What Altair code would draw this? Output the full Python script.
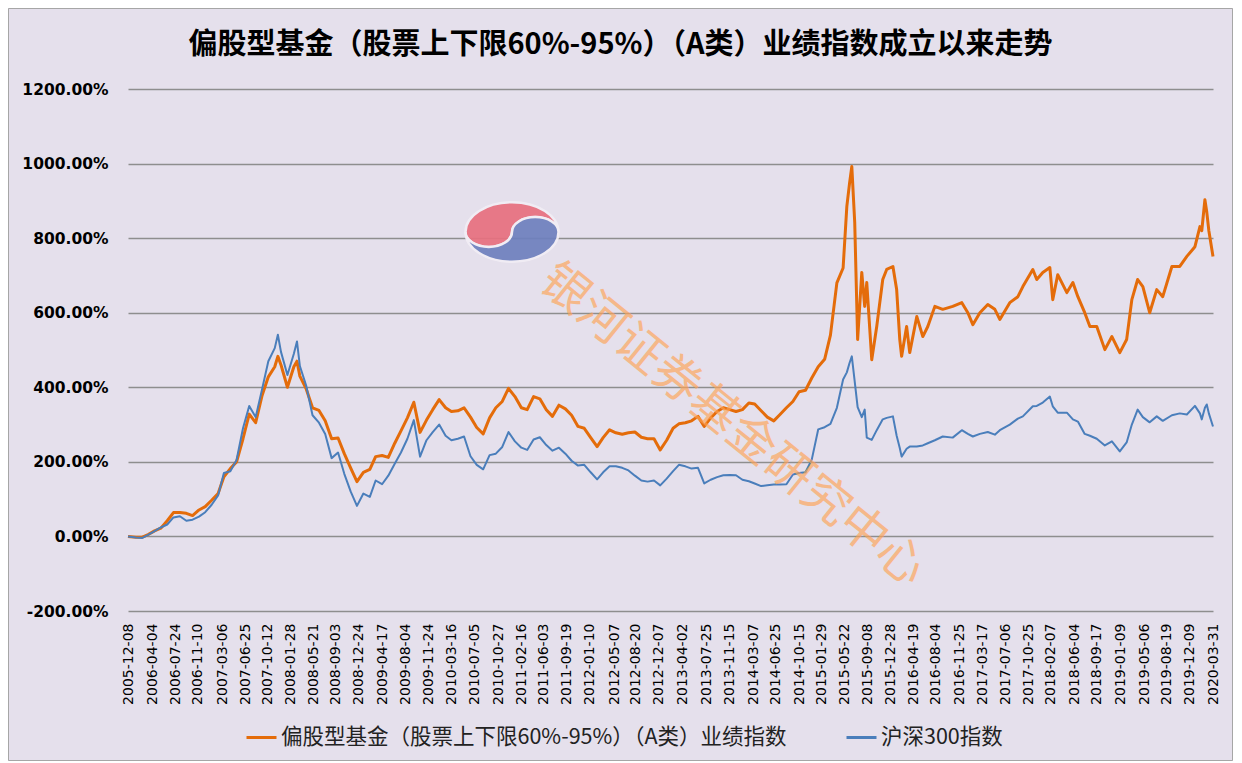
import altair as alt
import pandas as pd

fund_name = "偏股型基金（股票上下限60%-95%）（A类）业绩指数"
csi_name = "沪深300指数"
title_text = "偏股型基金（股票上下限60%-95%）（A类）业绩指数成立以来走势"

dates = [
    "2005-12-08", "2006-01-15", "2006-02-15", "2006-03-15", "2006-04-15", "2006-05-15",
    "2006-06-15", "2006-07-15", "2006-08-15", "2006-09-15", "2006-10-15", "2006-11-15",
    "2006-12-15", "2007-01-15", "2007-02-15", "2007-03-15", "2007-04-15", "2007-05-15",
    "2007-06-15", "2007-07-15", "2007-08-15", "2007-09-15", "2007-10-15", "2007-11-15",
    "2007-11-30", "2007-12-15", "2008-01-15", "2008-02-15", "2008-03-01", "2008-03-15",
    "2008-04-15", "2008-05-15", "2008-06-15", "2008-07-15", "2008-08-15", "2008-09-15",
    "2008-10-15", "2008-11-15", "2008-12-15", "2009-01-15", "2009-02-15", "2009-03-15",
    "2009-04-15", "2009-05-15", "2009-06-15", "2009-07-15", "2009-08-15", "2009-09-15",
    "2009-10-15", "2009-11-15", "2009-12-15", "2010-01-15", "2010-02-15", "2010-03-15",
    "2010-04-15", "2010-05-15", "2010-06-15", "2010-07-15", "2010-08-15", "2010-09-15",
    "2010-10-15", "2010-11-15", "2010-12-15", "2011-01-15", "2011-02-15", "2011-03-15",
    "2011-04-15", "2011-05-15", "2011-06-15", "2011-07-15", "2011-08-15", "2011-09-15",
    "2011-10-15", "2011-11-15", "2011-12-15", "2012-01-15", "2012-02-15", "2012-03-15",
    "2012-04-15", "2012-05-15", "2012-06-15", "2012-07-15", "2012-08-15", "2012-09-15",
    "2012-10-15", "2012-11-15", "2012-12-15", "2013-01-15", "2013-02-15", "2013-03-15",
    "2013-04-15", "2013-05-15", "2013-06-15", "2013-07-15", "2013-08-15", "2013-09-15",
    "2013-10-15", "2013-11-15", "2013-12-15", "2014-01-15", "2014-02-15", "2014-03-15",
    "2014-04-15", "2014-05-15", "2014-06-15", "2014-07-15", "2014-08-15", "2014-09-15",
    "2014-10-15", "2014-11-15", "2014-12-15", "2015-01-15", "2015-02-15", "2015-03-15",
    "2015-04-15", "2015-05-15", "2015-06-02", "2015-06-15", "2015-06-26", "2015-07-10",
    "2015-07-24", "2015-08-13", "2015-08-27", "2015-09-06", "2015-09-30", "2015-10-24",
    "2015-11-22", "2015-12-11", "2016-01-10", "2016-01-28", "2016-02-12", "2016-02-21",
    "2016-03-16", "2016-03-31", "2016-05-04", "2016-06-02", "2016-06-26", "2016-07-30",
    "2016-09-06", "2016-10-24", "2016-12-07", "2017-01-05", "2017-01-29", "2017-03-04",
    "2017-04-11", "2017-05-15", "2017-06-08", "2017-07-26", "2017-09-03", "2017-09-27",
    "2017-11-14", "2017-12-03", "2018-01-01", "2018-02-04", "2018-02-18", "2018-03-14",
    "2018-04-27", "2018-05-26", "2018-06-19", "2018-07-22", "2018-08-16", "2018-09-18",
    "2018-10-27", "2018-11-30", "2019-01-07", "2019-02-09", "2019-03-06", "2019-04-03",
    "2019-04-28", "2019-05-31", "2019-07-04", "2019-08-02", "2019-09-15", "2019-10-23",
    "2019-11-26", "2020-01-04", "2020-01-28", "2020-02-06", "2020-02-21", "2020-03-01",
    "2020-03-11", "2020-03-31",
]

fund_values = [
    0, -2, -2, 5, 15, 22,
    42, 64, 64, 62, 56, 71,
    80, 97, 115, 160, 182, 200,
    262, 328, 305, 378, 428, 455,
    483, 460, 400, 455, 470, 430,
    395, 345, 338, 310, 262, 264,
    222, 183, 147, 172, 180, 214,
    217, 212, 250, 283, 318, 360,
    279, 312, 340, 367, 345, 335,
    337, 345, 320, 292, 275, 318,
    345, 362, 397, 375, 345, 340,
    375, 369, 340, 322, 352, 342,
    325, 295, 290, 265, 241, 265,
    286, 278, 274, 278, 280, 266,
    262, 262, 232, 258, 290, 302,
    305, 310, 322, 295, 318, 335,
    345, 340, 335, 340, 358, 355,
    337, 320, 310, 327, 345, 362,
    388, 392, 425, 455, 475, 540,
    680, 720, 885, 947, 992, 842,
    528, 708, 617, 681, 474, 563,
    689, 716, 724, 662, 528, 483,
    563, 493, 590, 536, 563, 617,
    609, 617, 627, 600, 568, 600,
    622, 609, 582, 627, 643, 670,
    716, 689, 708, 721, 635, 702,
    654, 681, 643, 600, 563, 563,
    501, 536, 493, 528, 635, 689,
    670, 600, 662, 643, 724, 724,
    751, 777, 831, 820, 903, 870,
    820, 751,
]

csi_values = [
    0, -3, -4, 4, 14, 24,
    32, 51, 54, 42, 45, 53,
    65, 85, 110, 170, 175, 205,
    290, 350, 320, 395, 470, 505,
    541, 495, 433, 490, 523, 457,
    403, 325, 305, 275, 210, 225,
    168, 120, 82, 115, 106, 150,
    140, 163, 195, 225, 262, 312,
    214, 258, 280, 300, 270, 258,
    262, 268, 215, 192, 180, 218,
    222, 240, 280, 255, 238, 232,
    260, 266, 245, 230, 238, 222,
    203, 190, 192, 172, 153, 172,
    188, 188, 184, 177, 163, 150,
    147, 150, 137, 155, 175, 192,
    188, 182, 184, 142, 152, 159,
    164, 165, 164, 152, 148, 142,
    135, 137, 139, 139, 140, 166,
    170, 172, 206, 287, 293, 302,
    345, 421, 440, 465, 483, 415,
    347, 320, 340, 265, 259, 285,
    314, 318, 322, 270, 237, 214,
    235, 241, 241, 244, 250, 258,
    268, 265, 285, 275, 268, 275,
    280, 273, 285, 300, 316, 322,
    349, 350, 359, 375, 349, 332,
    332, 314, 308, 275, 270, 262,
    244, 255, 228, 252, 300, 340,
    320, 306, 322, 310, 325, 330,
    327, 350, 330, 314, 345, 354,
    330, 295,
]

tick_dates = [
    "2005-12-08", "2006-04-04", "2006-07-24", "2006-11-10", "2007-03-06", "2007-06-25",
    "2007-10-12", "2008-01-28", "2008-05-21", "2008-09-03", "2008-12-24", "2009-04-17",
    "2009-08-04", "2009-11-24", "2010-03-16", "2010-07-05", "2010-10-27", "2011-02-16",
    "2011-06-03", "2011-09-19", "2012-01-10", "2012-05-07", "2012-08-20", "2012-12-07",
    "2013-04-02", "2013-07-25", "2013-11-15", "2014-03-07", "2014-06-25", "2014-10-15",
    "2015-01-29", "2015-05-22", "2015-09-08", "2015-12-28", "2016-04-19", "2016-08-04",
    "2016-11-25", "2017-03-17", "2017-07-06", "2017-10-25", "2018-02-07", "2018-06-04",
    "2018-09-17", "2019-01-09", "2019-05-06", "2019-08-19", "2019-12-09", "2020-03-31",
]

y_ticks = [-200, 0, 200, 400, 600, 800, 1000, 1200]

rows = []
for d, f in zip(dates, fund_values):
    rows.append({"date": d, "series": fund_name, "value": f})
for d, c in zip(dates, csi_values):
    rows.append({"date": d, "series": csi_name, "value": c})
df = pd.DataFrame(rows)


def dt(s):
    y, m, d = (int(p) for p in s.split("-"))
    return alt.DateTime(year=y, month=m, date=d, utc=True)


x_enc = alt.X(
    "date:T",
    scale=alt.Scale(type="utc", domain=[dt(tick_dates[0]), dt(tick_dates[-1])], nice=False),
    axis=alt.Axis(
        values=[dt(s) for s in tick_dates], format="%Y-%m-%d", labelAngle=270,
        grid=False, ticks=False, domain=False, labelPadding=12, labelFlush=False,
        labelFont="DejaVu Sans", labelFontSize=14, labelColor="#000000",
        labelOverlap=False, title=None,
    ),
)

y_enc = alt.Y(
    "value:Q",
    scale=alt.Scale(domain=[-200, 1200], nice=False, zero=False),
    axis=alt.Axis(
        values=y_ticks,
        labelExpr="(datum.value < 0 ? '-' : '') + format(abs(datum.value), '.2f') + '%'",
        grid=True, gridColor="#8E8E8E", gridWidth=1.3, ticks=False, domain=False,
        labelPadding=20, labelFont="DejaVu Sans", labelFontSize=15.5,
        labelFontWeight="bold", labelColor="#000000", title=None,
    ),
)

color_enc = alt.Color(
    "series:N",
    scale=alt.Scale(domain=[fund_name, csi_name], range=["#E46C0A", "#4A7EBB"]),
    legend=alt.Legend(
        orient="none", legendX=117, legendY=632, direction="horizontal", title=None,
        symbolType="stroke", symbolSize=900, symbolStrokeWidth=3,
        labelFont="Noto Sans CJK SC", labelFontSize=21.5, labelColor="#222222",
        columnPadding=53, labelOffset=3, padding=0, labelLimit=0,
    ),
)

base = alt.Chart(df)
orange = base.transform_filter(
    alt.FieldEqualPredicate(field="series", equal=fund_name)
).mark_line(strokeWidth=3, strokeJoin="round").encode(x=x_enc, y=y_enc, color=color_enc)
blue = base.transform_filter(
    alt.FieldEqualPredicate(field="series", equal=csi_name)
).mark_line(strokeWidth=2, strokeJoin="round").encode(x=x_enc, y=y_enc, color=color_enc)

deco = pd.DataFrame({"k": [0]})
border = alt.Chart(deco).mark_rect(fill="transparent", stroke="#A6A6A6", strokeWidth=1).encode(
    x=alt.value(-119.5), x2=alt.value(1104.5), y=alt.value(-80.5), y2=alt.value(671.5)
)

red_path = "M -1 0 A 1 0.64 0 0 1 1 0 A 0.5 0.32 0 0 0 0 0 A 0.5 0.32 0 0 1 -1 0 Z"
blue_path = "M 1 0 A 1 0.64 0 0 1 -1 0 A 0.5 0.32 0 0 0 0 0 A 0.5 0.32 0 0 1 1 0 Z"
logo_red = alt.Chart(deco).mark_point(
    shape=red_path, filled=True, size=8649, color="#E8707F", opacity=0.92,
    stroke="#F2EEF5", strokeWidth=2.5,
).encode(x=alt.value(384), y=alt.value(143))
logo_blue = alt.Chart(deco).mark_point(
    shape=blue_path, filled=True, size=8649, color="#6E80BE", opacity=0.92,
    stroke="#F2EEF5", strokeWidth=2.5,
).encode(x=alt.value(384), y=alt.value(143))

watermark = alt.Chart(deco).mark_text(
    text="银河证券基金研究中心", angle=39, fontSize=48, font="Noto Sans CJK SC",
    color="#FFA355", opacity=0.65, align="center", baseline="middle",
).encode(x=alt.value(604), y=alt.value(337))

chart = alt.layer(border, orange, blue, logo_red, logo_blue, watermark).properties(
    width=1085,
    height=522,
    title=alt.TitleParams(
        text=title_text, font="Noto Sans CJK SC", fontSize=29, fontWeight="bold",
        color="#000000", anchor="middle", frame="group", offset=-52, dx=-50,
    ),
    padding={"left": 120, "top": 81, "right": 20, "bottom": 150},
    autosize=alt.AutoSizeParams(type="none"),
).configure(background="#E5E0EC").configure_view(stroke="transparent")

chart.save("out.html", embed_options={"renderer": "svg", "actions": False})
